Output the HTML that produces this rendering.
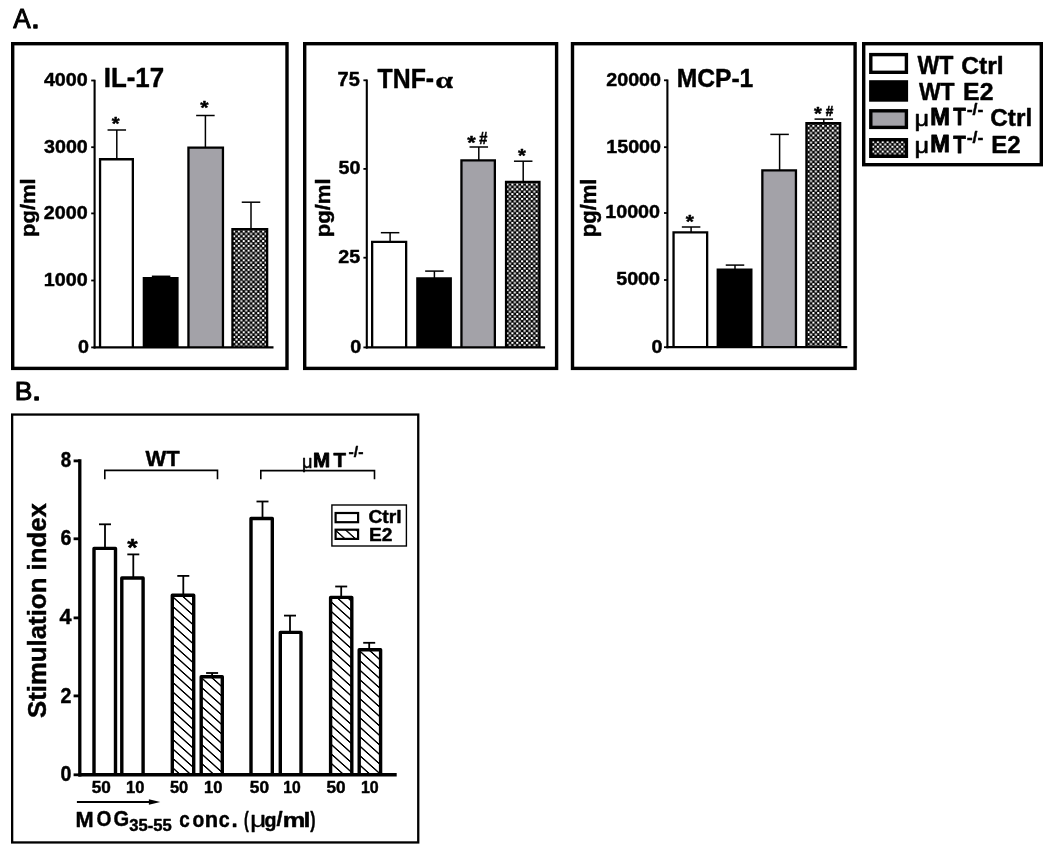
<!DOCTYPE html>
<html><head><meta charset="utf-8"><title>Figure</title>
<style>html,body{margin:0;padding:0;background:#fff;}svg{display:block;}text{fill:#000;}</style>
</head><body>
<svg width="1050" height="851" viewBox="0 0 1050 851">
<rect width="1050" height="851" fill="#fff"/>
<defs>
<pattern id="chk231" patternUnits="userSpaceOnUse" x="233.00" y="230.50" width="4.86" height="4.8">
<rect width="4.86" height="4.8" fill="#000"/>
<rect x="0" y="0" width="2.1" height="2.0" fill="#fff"/>
<rect x="2.43" y="2.4" width="2.1" height="2.0" fill="#fff"/>
</pattern>
<pattern id="chk504" patternUnits="userSpaceOnUse" x="506.50" y="183.50" width="4.86" height="4.8">
<rect width="4.86" height="4.8" fill="#000"/>
<rect x="0" y="0" width="2.1" height="2.0" fill="#fff"/>
<rect x="2.43" y="2.4" width="2.1" height="2.0" fill="#fff"/>
</pattern>
<pattern id="chk805" patternUnits="userSpaceOnUse" x="807.50" y="124.80" width="4.86" height="4.8">
<rect width="4.86" height="4.8" fill="#000"/>
<rect x="0" y="0" width="2.1" height="2.0" fill="#fff"/>
<rect x="2.43" y="2.4" width="2.1" height="2.0" fill="#fff"/>
</pattern>
<pattern id="chkL" patternUnits="userSpaceOnUse" x="872.00" y="141.00" width="4.86" height="4.8">
<rect width="4.86" height="4.8" fill="#000"/>
<rect x="0" y="0" width="2.1" height="2.0" fill="#fff"/>
<rect x="2.43" y="2.4" width="2.1" height="2.0" fill="#fff"/>
</pattern>
<pattern id="h3" patternUnits="userSpaceOnUse" width="60" height="9.5" patternTransform="translate(173.80,597.80) skewY(41.99)">
<rect width="60" height="9.5" fill="#fff"/>
<rect y="-0.95" width="60" height="1.9" fill="#000"/>
<rect y="8.55" width="60" height="1.9" fill="#000"/>
</pattern>
<pattern id="h4" patternUnits="userSpaceOnUse" width="60" height="9.5" patternTransform="translate(202.80,679.00) skewY(41.99)">
<rect width="60" height="9.5" fill="#fff"/>
<rect y="-0.95" width="60" height="1.9" fill="#000"/>
<rect y="8.55" width="60" height="1.9" fill="#000"/>
</pattern>
<pattern id="h7" patternUnits="userSpaceOnUse" width="60" height="9.5" patternTransform="translate(332.30,602.90) skewY(41.99)">
<rect width="60" height="9.5" fill="#fff"/>
<rect y="-0.95" width="60" height="1.9" fill="#000"/>
<rect y="8.55" width="60" height="1.9" fill="#000"/>
</pattern>
<pattern id="h8" patternUnits="userSpaceOnUse" width="60" height="9.5" patternTransform="translate(360.80,652.00) skewY(41.99)">
<rect width="60" height="9.5" fill="#fff"/>
<rect y="-0.95" width="60" height="1.9" fill="#000"/>
<rect y="8.55" width="60" height="1.9" fill="#000"/>
</pattern>
<pattern id="hL" patternUnits="userSpaceOnUse" width="60" height="9.5" patternTransform="translate(336.70,531.40) skewY(41.99)">
<rect width="60" height="9.5" fill="#fff"/>
<rect y="-0.90" width="60" height="1.8" fill="#000"/>
<rect y="8.60" width="60" height="1.8" fill="#000"/>
</pattern>
</defs>
<rect x="12.70" y="43.70" width="274.30" height="324.70" fill="#fff" stroke="#000" stroke-width="3.4" stroke-linejoin="miter"/>
<rect x="304.70" y="43.70" width="251.90" height="324.70" fill="#fff" stroke="#000" stroke-width="3.4" stroke-linejoin="miter"/>
<rect x="572.50" y="43.70" width="282.60" height="324.70" fill="#fff" stroke="#000" stroke-width="3.4" stroke-linejoin="miter"/>
<rect x="863.70" y="43.70" width="177.60" height="121.00" fill="#fff" stroke="#000" stroke-width="3.4" stroke-linejoin="miter"/>
<text transform="translate(13.15,28.30) scale(0.9316,1)" font-size="28.05" font-family='"Liberation Sans", Arial, sans-serif' font-weight="normal"  stroke="#000" stroke-width="1.0" stroke-linejoin="round">A</text>
<text transform="translate(31.06,28.10) scale(1.0913,1)" font-size="29.25" font-family='"Liberation Sans", Arial, sans-serif' font-weight="normal"  stroke="#000" stroke-width="1.4" stroke-linejoin="round">.</text>
<text transform="translate(14.73,399.70) scale(1.0019,1)" font-size="26.45" font-family='"Liberation Sans", Arial, sans-serif' font-weight="normal"  stroke="#000" stroke-width="1.0" stroke-linejoin="round">B</text>
<text transform="translate(32.07,399.50) scale(1.1652,1)" font-size="28.30" font-family='"Liberation Sans", Arial, sans-serif' font-weight="normal"  stroke="#000" stroke-width="1.4" stroke-linejoin="round">.</text>
<line x1="116.80" y1="130.00" x2="116.80" y2="159.10" stroke="#000" stroke-width="1.5" stroke-linecap="butt"/>
<line x1="107.55" y1="130.00" x2="126.05" y2="130.00" stroke="#000" stroke-width="1.5" stroke-linecap="butt"/>
<path d="M100.05,347.40 V159.25 H132.85 V347.40" fill="#fff" stroke="#000" stroke-width="2.3" stroke-linejoin="miter"/>
<line x1="161.10" y1="276.30" x2="161.10" y2="278.00" stroke="#000" stroke-width="1.5" stroke-linecap="butt"/>
<line x1="151.85" y1="276.30" x2="170.35" y2="276.30" stroke="#000" stroke-width="1.5" stroke-linecap="butt"/>
<path d="M143.85,347.40 V278.15 H177.45 V347.40" fill="#000" stroke="#000" stroke-width="2.3" stroke-linejoin="miter"/>
<line x1="205.40" y1="115.50" x2="205.40" y2="147.40" stroke="#000" stroke-width="1.5" stroke-linecap="butt"/>
<line x1="196.15" y1="115.50" x2="214.65" y2="115.50" stroke="#000" stroke-width="1.5" stroke-linecap="butt"/>
<path d="M188.45,347.40 V147.55 H222.95 V347.40" fill="#a3a2a8" stroke="#000" stroke-width="2.3" stroke-linejoin="miter"/>
<line x1="251.00" y1="202.20" x2="251.00" y2="228.90" stroke="#000" stroke-width="1.5" stroke-linecap="butt"/>
<line x1="241.75" y1="202.20" x2="260.25" y2="202.20" stroke="#000" stroke-width="1.5" stroke-linecap="butt"/>
<path d="M232.45,347.40 V229.05 H267.15 V347.40" fill="url(#chk231)" stroke="#000" stroke-width="2.3" stroke-linejoin="miter"/>
<line x1="94.60" y1="79.65" x2="94.60" y2="348.40" stroke="#000" stroke-width="2.1" stroke-linecap="butt"/>
<line x1="91.20" y1="80.50" x2="94.60" y2="80.50" stroke="#000" stroke-width="1.8" stroke-linecap="butt"/>
<line x1="91.20" y1="147.20" x2="94.60" y2="147.20" stroke="#000" stroke-width="1.8" stroke-linecap="butt"/>
<line x1="91.20" y1="213.40" x2="94.60" y2="213.40" stroke="#000" stroke-width="1.8" stroke-linecap="butt"/>
<line x1="91.20" y1="280.50" x2="94.60" y2="280.50" stroke="#000" stroke-width="1.8" stroke-linecap="butt"/>
<line x1="91.20" y1="347.40" x2="94.60" y2="347.40" stroke="#000" stroke-width="1.8" stroke-linecap="butt"/>
<line x1="93.60" y1="347.40" x2="273.50" y2="347.40" stroke="#000" stroke-width="2.2" stroke-linecap="butt"/>
<text transform="translate(43.92,85.98) scale(1.0300,1)" font-size="19.14" font-family='"Liberation Sans", Arial, sans-serif' font-weight="bold" stroke="#000" stroke-width="0.45" stroke-linejoin="round">4000</text>
<text transform="translate(44.04,152.65) scale(1.0300,1)" font-size="19.08" font-family='"Liberation Sans", Arial, sans-serif' font-weight="bold" stroke="#000" stroke-width="0.45" stroke-linejoin="round">3000</text>
<text transform="translate(43.82,218.88) scale(1.0300,1)" font-size="19.14" font-family='"Liberation Sans", Arial, sans-serif' font-weight="bold" stroke="#000" stroke-width="0.45" stroke-linejoin="round">2000</text>
<text transform="translate(43.82,285.98) scale(1.0300,1)" font-size="19.14" font-family='"Liberation Sans", Arial, sans-serif' font-weight="bold" stroke="#000" stroke-width="0.45" stroke-linejoin="round">1000</text>
<text transform="translate(78.00,352.88) scale(1.0300,1)" font-size="19.14" font-family='"Liberation Sans", Arial, sans-serif' font-weight="bold" stroke="#000" stroke-width="0.45" stroke-linejoin="round">0</text>
<line x1="390.10" y1="232.70" x2="390.10" y2="241.80" stroke="#000" stroke-width="1.5" stroke-linecap="butt"/>
<line x1="380.85" y1="232.70" x2="399.35" y2="232.70" stroke="#000" stroke-width="1.5" stroke-linecap="butt"/>
<path d="M372.15,347.40 V241.95 H406.15 V347.40" fill="#fff" stroke="#000" stroke-width="2.3" stroke-linejoin="miter"/>
<line x1="434.40" y1="271.10" x2="434.40" y2="278.30" stroke="#000" stroke-width="1.5" stroke-linecap="butt"/>
<line x1="425.15" y1="271.10" x2="443.65" y2="271.10" stroke="#000" stroke-width="1.5" stroke-linecap="butt"/>
<path d="M417.35,347.40 V278.45 H450.75 V347.40" fill="#000" stroke="#000" stroke-width="2.3" stroke-linejoin="miter"/>
<line x1="478.80" y1="147.00" x2="478.80" y2="160.30" stroke="#000" stroke-width="1.5" stroke-linecap="butt"/>
<line x1="469.55" y1="147.00" x2="488.05" y2="147.00" stroke="#000" stroke-width="1.5" stroke-linecap="butt"/>
<path d="M461.45,347.40 V160.45 H494.85 V347.40" fill="#a3a2a8" stroke="#000" stroke-width="2.3" stroke-linejoin="miter"/>
<line x1="523.20" y1="161.20" x2="523.20" y2="181.80" stroke="#000" stroke-width="1.5" stroke-linecap="butt"/>
<line x1="513.95" y1="161.20" x2="532.45" y2="161.20" stroke="#000" stroke-width="1.5" stroke-linecap="butt"/>
<path d="M506.05,347.40 V181.95 H539.45 V347.40" fill="url(#chk504)" stroke="#000" stroke-width="2.3" stroke-linejoin="miter"/>
<line x1="366.80" y1="79.45" x2="366.80" y2="348.40" stroke="#000" stroke-width="2.1" stroke-linecap="butt"/>
<line x1="363.40" y1="80.30" x2="366.80" y2="80.30" stroke="#000" stroke-width="1.8" stroke-linecap="butt"/>
<line x1="363.40" y1="168.90" x2="366.80" y2="168.90" stroke="#000" stroke-width="1.8" stroke-linecap="butt"/>
<line x1="363.40" y1="257.70" x2="366.80" y2="257.70" stroke="#000" stroke-width="1.8" stroke-linecap="butt"/>
<line x1="363.40" y1="347.40" x2="366.80" y2="347.40" stroke="#000" stroke-width="1.8" stroke-linecap="butt"/>
<line x1="365.80" y1="347.40" x2="545.10" y2="347.40" stroke="#000" stroke-width="2.2" stroke-linecap="butt"/>
<text transform="translate(337.60,85.78) scale(1.0300,1)" font-size="19.41" font-family='"Liberation Sans", Arial, sans-serif' font-weight="bold" stroke="#000" stroke-width="0.45" stroke-linejoin="round">75</text>
<text transform="translate(338.44,174.38) scale(1.0300,1)" font-size="19.14" font-family='"Liberation Sans", Arial, sans-serif' font-weight="bold" stroke="#000" stroke-width="0.45" stroke-linejoin="round">50</text>
<text transform="translate(338.21,263.18) scale(1.0300,1)" font-size="19.14" font-family='"Liberation Sans", Arial, sans-serif' font-weight="bold" stroke="#000" stroke-width="0.45" stroke-linejoin="round">25</text>
<text transform="translate(350.20,352.88) scale(1.0300,1)" font-size="19.14" font-family='"Liberation Sans", Arial, sans-serif' font-weight="bold" stroke="#000" stroke-width="0.45" stroke-linejoin="round">0</text>
<line x1="691.10" y1="227.00" x2="691.10" y2="232.20" stroke="#000" stroke-width="1.5" stroke-linecap="butt"/>
<line x1="681.85" y1="227.00" x2="700.35" y2="227.00" stroke="#000" stroke-width="1.5" stroke-linecap="butt"/>
<path d="M673.55,347.20 V232.35 H707.15 V347.20" fill="#fff" stroke="#000" stroke-width="2.3" stroke-linejoin="miter"/>
<line x1="735.00" y1="265.10" x2="735.00" y2="269.60" stroke="#000" stroke-width="1.5" stroke-linecap="butt"/>
<line x1="725.75" y1="265.10" x2="744.25" y2="265.10" stroke="#000" stroke-width="1.5" stroke-linecap="butt"/>
<path d="M717.75,347.20 V269.75 H751.35 V347.20" fill="#000" stroke="#000" stroke-width="2.3" stroke-linejoin="miter"/>
<line x1="779.60" y1="134.40" x2="779.60" y2="170.30" stroke="#000" stroke-width="1.5" stroke-linecap="butt"/>
<line x1="770.35" y1="134.40" x2="788.85" y2="134.40" stroke="#000" stroke-width="1.5" stroke-linecap="butt"/>
<path d="M762.35,347.20 V170.45 H795.95 V347.20" fill="#a3a2a8" stroke="#000" stroke-width="2.3" stroke-linejoin="miter"/>
<line x1="823.80" y1="119.10" x2="823.80" y2="123.10" stroke="#000" stroke-width="1.5" stroke-linecap="butt"/>
<line x1="814.55" y1="119.10" x2="833.05" y2="119.10" stroke="#000" stroke-width="1.5" stroke-linecap="butt"/>
<path d="M806.45,347.20 V123.25 H840.15 V347.20" fill="url(#chk805)" stroke="#000" stroke-width="2.3" stroke-linejoin="miter"/>
<line x1="667.40" y1="79.45" x2="667.40" y2="348.20" stroke="#000" stroke-width="2.1" stroke-linecap="butt"/>
<line x1="664.00" y1="80.30" x2="667.40" y2="80.30" stroke="#000" stroke-width="1.8" stroke-linecap="butt"/>
<line x1="664.00" y1="147.20" x2="667.40" y2="147.20" stroke="#000" stroke-width="1.8" stroke-linecap="butt"/>
<line x1="664.00" y1="213.00" x2="667.40" y2="213.00" stroke="#000" stroke-width="1.8" stroke-linecap="butt"/>
<line x1="664.00" y1="280.00" x2="667.40" y2="280.00" stroke="#000" stroke-width="1.8" stroke-linecap="butt"/>
<line x1="664.00" y1="347.20" x2="667.40" y2="347.20" stroke="#000" stroke-width="1.8" stroke-linecap="butt"/>
<line x1="666.40" y1="347.20" x2="847.30" y2="347.20" stroke="#000" stroke-width="2.2" stroke-linecap="butt"/>
<text transform="translate(606.26,85.78) scale(1.0300,1)" font-size="19.14" font-family='"Liberation Sans", Arial, sans-serif' font-weight="bold" stroke="#000" stroke-width="0.45" stroke-linejoin="round">20000</text>
<text transform="translate(606.26,152.68) scale(1.0300,1)" font-size="19.14" font-family='"Liberation Sans", Arial, sans-serif' font-weight="bold" stroke="#000" stroke-width="0.45" stroke-linejoin="round">15000</text>
<text transform="translate(605.26,218.48) scale(1.0300,1)" font-size="19.14" font-family='"Liberation Sans", Arial, sans-serif' font-weight="bold" stroke="#000" stroke-width="0.45" stroke-linejoin="round">10000</text>
<text transform="translate(616.22,285.48) scale(1.0300,1)" font-size="19.14" font-family='"Liberation Sans", Arial, sans-serif' font-weight="bold" stroke="#000" stroke-width="0.45" stroke-linejoin="round">5000</text>
<text transform="translate(651.60,352.68) scale(1.0300,1)" font-size="19.14" font-family='"Liberation Sans", Arial, sans-serif' font-weight="bold" stroke="#000" stroke-width="0.45" stroke-linejoin="round">0</text>
<text transform="translate(103.72,87.38) scale(0.9297,1)" font-size="27.83" font-family='"Liberation Sans", Arial, sans-serif' font-weight="bold"  stroke="#000" stroke-width="0.45" stroke-linejoin="round">IL-17</text>
<text transform="translate(377.53,88.38) scale(0.9164,1)" font-size="27.11" font-family='"Liberation Sans", Arial, sans-serif' font-weight="bold"  stroke="#000" stroke-width="0.45" stroke-linejoin="round">TNF-</text>
<text transform="translate(435.20,88.22) scale(1.3785,1)" font-size="23.24" font-family='"Liberation Serif", "Times New Roman", serif' font-weight="bold"  stroke="#000" stroke-width="0.3" stroke-linejoin="round">α</text>
<text transform="translate(676.70,86.91) scale(0.9253,1)" font-size="26.62" font-family='"Liberation Sans", Arial, sans-serif' font-weight="bold"  stroke="#000" stroke-width="0.45" stroke-linejoin="round">MCP-1</text>
<text transform="translate(35.00,236.92) rotate(-90) scale(1.0406,1)" font-size="21.10" font-family='"Liberation Sans", Arial, sans-serif' font-weight="bold" stroke="#000" stroke-width="0.45" stroke-linejoin="round">pg/ml</text>
<text transform="translate(329.75,237.13) rotate(-90) scale(1.0531,1)" font-size="20.89" font-family='"Liberation Sans", Arial, sans-serif' font-weight="bold" stroke="#000" stroke-width="0.45" stroke-linejoin="round">pg/ml</text>
<text transform="translate(595.56,237.13) rotate(-90) scale(1.0320,1)" font-size="21.31" font-family='"Liberation Sans", Arial, sans-serif' font-weight="bold" stroke="#000" stroke-width="0.45" stroke-linejoin="round">pg/ml</text>
<text transform="translate(111.84,129.94) scale(1.1462,1)" font-size="17.61" font-family='"Liberation Sans", Arial, sans-serif' font-weight="bold"  stroke="#000" stroke-width="0.45" stroke-linejoin="round">*</text>
<text transform="translate(200.14,114.14) scale(1.2054,1)" font-size="17.61" font-family='"Liberation Sans", Arial, sans-serif' font-weight="bold"  stroke="#000" stroke-width="0.45" stroke-linejoin="round">*</text>
<text transform="translate(467.34,148.75) scale(1.1313,1)" font-size="19.22" font-family='"Liberation Sans", Arial, sans-serif' font-weight="bold"  stroke="#000" stroke-width="0.45" stroke-linejoin="round">*</text>
<text transform="translate(479.14,143.70) scale(0.9280,1)" font-size="15.69" font-family='"Liberation Sans", Arial, sans-serif' font-weight="bold" stroke="#000" stroke-width="0.5">#</text>
<text transform="translate(518.04,161.58) scale(1.0803,1)" font-size="18.68" font-family='"Liberation Sans", Arial, sans-serif' font-weight="bold"  stroke="#000" stroke-width="0.45" stroke-linejoin="round">*</text>
<text transform="translate(685.64,227.75) scale(1.0907,1)" font-size="19.22" font-family='"Liberation Sans", Arial, sans-serif' font-weight="bold"  stroke="#000" stroke-width="0.45" stroke-linejoin="round">*</text>
<text transform="translate(814.04,120.34) scale(1.1462,1)" font-size="17.61" font-family='"Liberation Sans", Arial, sans-serif' font-weight="bold"  stroke="#000" stroke-width="0.45" stroke-linejoin="round">*</text>
<text transform="translate(825.66,115.90) scale(0.8751,1)" font-size="15.54" font-family='"Liberation Sans", Arial, sans-serif' font-weight="bold" stroke="#000" stroke-width="0.5">#</text>
<rect x="870.80" y="54.60" width="35.60" height="17.70" fill="#fff" stroke="#000" stroke-width="3.4" stroke-linejoin="miter"/>
<rect x="870.80" y="81.90" width="35.60" height="18.10" fill="#000" stroke="#000" stroke-width="3.4" stroke-linejoin="miter"/>
<rect x="870.80" y="110.80" width="35.60" height="16.60" fill="#a3a2a8" stroke="#000" stroke-width="3.4" stroke-linejoin="miter"/>
<rect x="870.80" y="139.70" width="35.60" height="16.60" fill="url(#chkL)" stroke="#000" stroke-width="3.4" stroke-linejoin="miter"/>
<text transform="translate(917.38,74.28) scale(0.9221,1)" font-size="25.07" font-family='"Liberation Sans", Arial, sans-serif' font-weight="bold"  stroke="#000" stroke-width="0.45" stroke-linejoin="round">WT</text>
<text transform="translate(961.19,74.04) scale(1.0326,1)" font-size="23.91" font-family='"Liberation Sans", Arial, sans-serif' font-weight="bold"  stroke="#000" stroke-width="0.45" stroke-linejoin="round">Ctrl</text>
<text transform="translate(918.88,100.48) scale(0.9387,1)" font-size="24.49" font-family='"Liberation Sans", Arial, sans-serif' font-weight="bold"  stroke="#000" stroke-width="0.45" stroke-linejoin="round">WT</text>
<text transform="translate(963.09,100.48) scale(1.0282,1)" font-size="24.14" font-family='"Liberation Sans", Arial, sans-serif' font-weight="bold"  stroke="#000" stroke-width="0.45" stroke-linejoin="round">E2</text>
<text transform="translate(914.58,125.81) scale(1.1623,1)" font-size="21.81" font-family='"Liberation Sans", Arial, sans-serif' font-weight="normal"  stroke="#000" stroke-width="0.6" stroke-linejoin="round">μ</text>
<text transform="translate(930.34,124.90) scale(0.9889,1)" font-size="23.84" font-family='"Liberation Sans", Arial, sans-serif' font-weight="bold"  stroke="#000" stroke-width="1.0" stroke-linejoin="round">M</text>
<text transform="translate(953.25,125.00) scale(0.8529,1)" font-size="24.13" font-family='"Liberation Sans", Arial, sans-serif' font-weight="bold"  stroke="#000" stroke-width="0.8" stroke-linejoin="round">T</text>
<text transform="translate(966.72,115.45) scale(1.0833,1)" font-size="16.33" font-family='"Liberation Sans", Arial, sans-serif' font-weight="bold"  stroke="#000" stroke-width="0.45" stroke-linejoin="round">-/-</text>
<text transform="translate(914.58,153.31) scale(1.1623,1)" font-size="21.81" font-family='"Liberation Sans", Arial, sans-serif' font-weight="normal"  stroke="#000" stroke-width="0.6" stroke-linejoin="round">μ</text>
<text transform="translate(930.34,152.40) scale(0.9889,1)" font-size="23.84" font-family='"Liberation Sans", Arial, sans-serif' font-weight="bold"  stroke="#000" stroke-width="1.0" stroke-linejoin="round">M</text>
<text transform="translate(953.25,152.50) scale(0.8529,1)" font-size="24.13" font-family='"Liberation Sans", Arial, sans-serif' font-weight="bold"  stroke="#000" stroke-width="0.8" stroke-linejoin="round">T</text>
<text transform="translate(966.72,142.95) scale(1.0833,1)" font-size="16.33" font-family='"Liberation Sans", Arial, sans-serif' font-weight="bold"  stroke="#000" stroke-width="0.45" stroke-linejoin="round">-/-</text>
<text transform="translate(990.30,125.54) scale(1.0287,1)" font-size="23.64" font-family='"Liberation Sans", Arial, sans-serif' font-weight="bold"  stroke="#000" stroke-width="0.45" stroke-linejoin="round">Ctrl</text>
<text transform="translate(991.34,152.78) scale(0.9890,1)" font-size="24.28" font-family='"Liberation Sans", Arial, sans-serif' font-weight="bold"  stroke="#000" stroke-width="0.45" stroke-linejoin="round">E2</text>
<rect x="12.15" y="414.55" width="406.10" height="427.90" fill="#fff" stroke="#000" stroke-width="2.3" stroke-linejoin="miter"/>
<line x1="105.00" y1="524.30" x2="105.00" y2="548.20" stroke="#000" stroke-width="1.8" stroke-linecap="butt"/>
<line x1="99.00" y1="524.30" x2="111.00" y2="524.30" stroke="#000" stroke-width="1.8" stroke-linecap="butt"/>
<path d="M94.00,774.80 V548.40 H115.50 V774.80" fill="#fff" stroke="#000" stroke-width="3.4" stroke-linejoin="round"/>
<line x1="133.30" y1="554.40" x2="133.30" y2="577.80" stroke="#000" stroke-width="1.8" stroke-linecap="butt"/>
<line x1="127.30" y1="554.40" x2="139.30" y2="554.40" stroke="#000" stroke-width="1.8" stroke-linecap="butt"/>
<path d="M121.80,774.80 V578.00 H143.10 V774.80" fill="#fff" stroke="#000" stroke-width="3.4" stroke-linejoin="round"/>
<line x1="183.30" y1="575.90" x2="183.30" y2="595.10" stroke="#000" stroke-width="1.8" stroke-linecap="butt"/>
<line x1="177.30" y1="575.90" x2="189.30" y2="575.90" stroke="#000" stroke-width="1.8" stroke-linecap="butt"/>
<path d="M172.30,774.80 V595.30 H193.70 V774.80" fill="url(#h3)" stroke="#000" stroke-width="3.4" stroke-linejoin="round"/>
<line x1="212.10" y1="673.00" x2="212.10" y2="676.50" stroke="#000" stroke-width="1.8" stroke-linecap="butt"/>
<line x1="206.10" y1="673.00" x2="218.10" y2="673.00" stroke="#000" stroke-width="1.8" stroke-linecap="butt"/>
<path d="M201.20,774.80 V676.70 H222.30 V774.80" fill="url(#h4)" stroke="#000" stroke-width="3.4" stroke-linejoin="round"/>
<line x1="262.50" y1="501.50" x2="262.50" y2="518.30" stroke="#000" stroke-width="1.8" stroke-linecap="butt"/>
<line x1="256.50" y1="501.50" x2="268.50" y2="501.50" stroke="#000" stroke-width="1.8" stroke-linecap="butt"/>
<path d="M251.00,774.80 V518.50 H272.30 V774.80" fill="#fff" stroke="#000" stroke-width="3.4" stroke-linejoin="round"/>
<line x1="290.00" y1="615.60" x2="290.00" y2="632.20" stroke="#000" stroke-width="1.8" stroke-linecap="butt"/>
<line x1="284.00" y1="615.60" x2="296.00" y2="615.60" stroke="#000" stroke-width="1.8" stroke-linecap="butt"/>
<path d="M280.30,774.80 V632.40 H301.00 V774.80" fill="#fff" stroke="#000" stroke-width="3.4" stroke-linejoin="round"/>
<line x1="341.20" y1="586.50" x2="341.20" y2="597.20" stroke="#000" stroke-width="1.8" stroke-linecap="butt"/>
<line x1="335.20" y1="586.50" x2="347.20" y2="586.50" stroke="#000" stroke-width="1.8" stroke-linecap="butt"/>
<path d="M330.60,774.80 V597.40 H351.80 V774.80" fill="url(#h7)" stroke="#000" stroke-width="3.4" stroke-linejoin="round"/>
<line x1="369.20" y1="642.80" x2="369.20" y2="649.60" stroke="#000" stroke-width="1.8" stroke-linecap="butt"/>
<line x1="363.20" y1="642.80" x2="375.20" y2="642.80" stroke="#000" stroke-width="1.8" stroke-linecap="butt"/>
<path d="M359.20,774.80 V649.80 H380.60 V774.80" fill="url(#h8)" stroke="#000" stroke-width="3.4" stroke-linejoin="round"/>
<line x1="79.80" y1="459.30" x2="79.80" y2="776.40" stroke="#000" stroke-width="3.3" stroke-linecap="butt"/>
<line x1="73.60" y1="460.90" x2="79.80" y2="460.90" stroke="#000" stroke-width="2.8" stroke-linecap="butt"/>
<line x1="73.60" y1="538.80" x2="79.80" y2="538.80" stroke="#000" stroke-width="2.8" stroke-linecap="butt"/>
<line x1="73.60" y1="617.90" x2="79.80" y2="617.90" stroke="#000" stroke-width="2.8" stroke-linecap="butt"/>
<line x1="73.60" y1="695.90" x2="79.80" y2="695.90" stroke="#000" stroke-width="2.8" stroke-linecap="butt"/>
<line x1="73.60" y1="774.80" x2="79.80" y2="774.80" stroke="#000" stroke-width="2.8" stroke-linecap="butt"/>
<line x1="78.50" y1="774.80" x2="396.70" y2="774.80" stroke="#000" stroke-width="3.4" stroke-linecap="butt"/>
<text transform="translate(60.63,466.96) scale(0.8809,1)" font-size="21.26" font-family='"Liberation Sans", Arial, sans-serif' font-weight="bold"  stroke="#000" stroke-width="0.45" stroke-linejoin="round">8</text>
<text transform="translate(60.52,544.96) scale(0.9185,1)" font-size="21.26" font-family='"Liberation Sans", Arial, sans-serif' font-weight="bold"  stroke="#000" stroke-width="0.45" stroke-linejoin="round">6</text>
<text transform="translate(59.58,624.07) scale(0.9758,1)" font-size="22.17" font-family='"Liberation Sans", Arial, sans-serif' font-weight="bold"  stroke="#000" stroke-width="0.45" stroke-linejoin="round">4</text>
<text transform="translate(60.46,703.27) scale(0.9093,1)" font-size="21.56" font-family='"Liberation Sans", Arial, sans-serif' font-weight="bold"  stroke="#000" stroke-width="0.45" stroke-linejoin="round">2</text>
<text transform="translate(60.54,780.96) scale(0.9180,1)" font-size="21.40" font-family='"Liberation Sans", Arial, sans-serif' font-weight="bold"  stroke="#000" stroke-width="0.45" stroke-linejoin="round">0</text>
<text transform="translate(46.42,718.05) rotate(-90) scale(1.0047,1)" font-size="25.68" font-family='"Liberation Sans", Arial, sans-serif' font-weight="bold" stroke="#000" stroke-width="0.45" stroke-linejoin="round">Stimulation index</text>
<text transform="translate(127.22,556.45) scale(1.0852,1)" font-size="24.60" font-family='"Liberation Sans", Arial, sans-serif' font-weight="bold"  stroke="#000" stroke-width="0.45" stroke-linejoin="round">*</text>
<polyline points="104.80,479.30 104.80,470.40 217.50,470.40 217.50,479.30" fill="none" stroke="#000" stroke-width="1.6"/>
<polyline points="260.80,479.30 260.80,470.60 374.50,470.60 374.50,479.30" fill="none" stroke="#000" stroke-width="1.6"/>
<text transform="translate(145.48,465.77) scale(1.0200,1)" font-size="21.58" font-family='"Liberation Sans", Arial, sans-serif' font-weight="bold"  stroke="#000" stroke-width="0.45" stroke-linejoin="round">WT</text>
<text transform="translate(302.01,467.93) scale(0.9929,1)" font-size="18.33" font-family='"Liberation Sans", Arial, sans-serif' font-weight="normal"  stroke="#000" stroke-width="0.5" stroke-linejoin="round">μ</text>
<text transform="translate(313.09,466.55) scale(1.0038,1)" font-size="20.49" font-family='"Liberation Sans", Arial, sans-serif' font-weight="bold"  stroke="#000" stroke-width="0.9" stroke-linejoin="round">M</text>
<text transform="translate(333.41,466.65) scale(0.9819,1)" font-size="20.78" font-family='"Liberation Sans", Arial, sans-serif' font-weight="bold"  stroke="#000" stroke-width="0.7" stroke-linejoin="round">T</text>
<text transform="translate(348.60,457.17) scale(1.0396,1)" font-size="15.12" font-family='"Liberation Sans", Arial, sans-serif' font-weight="bold"  stroke="#000" stroke-width="0.45" stroke-linejoin="round">-/-</text>
<rect x="331.90" y="505.00" width="74.50" height="41.00" fill="#fff" stroke="#000" stroke-width="1.4" stroke-linejoin="miter"/>
<rect x="335.60" y="513.00" width="22.50" height="9.20" fill="#fff" stroke="#000" stroke-width="2.2" stroke-linejoin="miter"/>
<rect x="335.60" y="529.70" width="22.50" height="9.20" fill="url(#hL)" stroke="#000" stroke-width="2.2" stroke-linejoin="miter"/>
<text transform="translate(368.42,522.89) scale(1.0604,1)" font-size="18.19" font-family='"Liberation Sans", Arial, sans-serif' font-weight="bold"  stroke="#000" stroke-width="0.45" stroke-linejoin="round">Ctrl</text>
<text transform="translate(368.96,541.17) scale(1.0031,1)" font-size="19.13" font-family='"Liberation Sans", Arial, sans-serif' font-weight="bold"  stroke="#000" stroke-width="0.45" stroke-linejoin="round">E2</text>
<text transform="translate(91.68,793.01) scale(1.0255,1)" font-size="16.74" font-family='"Liberation Sans", Arial, sans-serif' font-weight="bold"  stroke="#000" stroke-width="0.45" stroke-linejoin="round">50</text>
<text transform="translate(126.10,793.01) scale(0.9849,1)" font-size="16.74" font-family='"Liberation Sans", Arial, sans-serif' font-weight="bold"  stroke="#000" stroke-width="0.45" stroke-linejoin="round">10</text>
<text transform="translate(169.90,793.01) scale(0.9795,1)" font-size="16.74" font-family='"Liberation Sans", Arial, sans-serif' font-weight="bold"  stroke="#000" stroke-width="0.45" stroke-linejoin="round">50</text>
<text transform="translate(204.10,793.01) scale(0.9849,1)" font-size="16.74" font-family='"Liberation Sans", Arial, sans-serif' font-weight="bold"  stroke="#000" stroke-width="0.45" stroke-linejoin="round">10</text>
<text transform="translate(249.87,793.01) scale(1.0312,1)" font-size="16.74" font-family='"Liberation Sans", Arial, sans-serif' font-weight="bold"  stroke="#000" stroke-width="0.45" stroke-linejoin="round">50</text>
<text transform="translate(283.25,793.01) scale(0.9376,1)" font-size="16.74" font-family='"Liberation Sans", Arial, sans-serif' font-weight="bold"  stroke="#000" stroke-width="0.45" stroke-linejoin="round">10</text>
<text transform="translate(326.58,793.01) scale(1.0255,1)" font-size="16.74" font-family='"Liberation Sans", Arial, sans-serif' font-weight="bold"  stroke="#000" stroke-width="0.45" stroke-linejoin="round">50</text>
<text transform="translate(360.93,793.01) scale(0.9554,1)" font-size="16.74" font-family='"Liberation Sans", Arial, sans-serif' font-weight="bold"  stroke="#000" stroke-width="0.45" stroke-linejoin="round">10</text>
<line x1="76.90" y1="802.00" x2="150.00" y2="802.00" stroke="#000" stroke-width="1.9" stroke-linecap="butt"/>
<polygon points="148.9,799.2 160.3,802.0 148.9,804.8" fill="#000"/>
<text transform="translate(75.39,826.67) scale(0.9765,1)" font-size="22.31" font-family='"Liberation Sans", Arial, sans-serif' font-weight="bold"  stroke="#000" stroke-width="0.45" stroke-linejoin="round">M</text>
<text transform="translate(96.52,826.46) scale(0.8873,1)" font-size="21.68" font-family='"Liberation Sans", Arial, sans-serif' font-weight="bold"  stroke="#000" stroke-width="0.45" stroke-linejoin="round">O</text>
<text transform="translate(113.38,826.46) scale(0.9273,1)" font-size="21.68" font-family='"Liberation Sans", Arial, sans-serif' font-weight="bold"  stroke="#000" stroke-width="0.45" stroke-linejoin="round">G</text>
<text transform="translate(129.23,831.28) scale(1.0464,1)" font-size="15.85" font-family='"Liberation Sans", Arial, sans-serif' font-weight="bold"  stroke="#000" stroke-width="0.45" stroke-linejoin="round">35-55</text>
<text transform="translate(179.17,826.56) scale(0.8707,1)" font-size="21.62" font-family='"Liberation Sans", Arial, sans-serif' font-weight="bold"  stroke="#000" stroke-width="0.45" stroke-linejoin="round">c</text>
<text transform="translate(192.45,826.56) scale(0.8910,1)" font-size="21.62" font-family='"Liberation Sans", Arial, sans-serif' font-weight="bold"  stroke="#000" stroke-width="0.45" stroke-linejoin="round">o</text>
<text transform="translate(204.78,826.77) scale(0.9937,1)" font-size="22.03" font-family='"Liberation Sans", Arial, sans-serif' font-weight="bold"  stroke="#000" stroke-width="0.45" stroke-linejoin="round">n</text>
<text transform="translate(218.74,826.56) scale(0.9087,1)" font-size="21.62" font-family='"Liberation Sans", Arial, sans-serif' font-weight="bold"  stroke="#000" stroke-width="0.45" stroke-linejoin="round">c</text>
<text transform="translate(231.42,826.77) scale(0.9800,1)" font-size="22.64" font-family='"Liberation Sans", Arial, sans-serif' font-weight="bold"  stroke="#000" stroke-width="0.45" stroke-linejoin="round">.</text>
<text transform="translate(244.11,826.87) scale(0.6777,1)" font-size="21.19" font-family='"Liberation Sans", Arial, sans-serif' font-weight="bold"  stroke="#000" stroke-width="0.45" stroke-linejoin="round">(</text>
<text transform="translate(250.02,827.27) scale(1.3337,1)" font-size="21.25" font-family='"Liberation Sans", Arial, sans-serif' font-weight="normal"  stroke="#000" stroke-width="0.3" stroke-linejoin="round">μ</text>
<text transform="translate(264.50,826.99) scale(0.9714,1)" font-size="20.20" font-family='"Liberation Sans", Arial, sans-serif' font-weight="bold"  stroke="#000" stroke-width="0.45" stroke-linejoin="round">g</text>
<text transform="translate(276.61,826.37) scale(1.0684,1)" font-size="20.50" font-family='"Liberation Sans", Arial, sans-serif' font-weight="bold"  stroke="#000" stroke-width="0.45" stroke-linejoin="round">/</text>
<text transform="translate(282.75,826.77) scale(1.2828,1)" font-size="19.80" font-family='"Liberation Sans", Arial, sans-serif' font-weight="bold"  stroke="#000" stroke-width="0.45" stroke-linejoin="round">m</text>
<text transform="translate(303.58,826.77) scale(1.1869,1)" font-size="21.06" font-family='"Liberation Sans", Arial, sans-serif' font-weight="bold"  stroke="#000" stroke-width="0.45" stroke-linejoin="round">l</text>
<text transform="translate(310.29,826.87) scale(0.7447,1)" font-size="21.19" font-family='"Liberation Sans", Arial, sans-serif' font-weight="bold"  stroke="#000" stroke-width="0.45" stroke-linejoin="round">)</text>
</svg>
</body></html>
